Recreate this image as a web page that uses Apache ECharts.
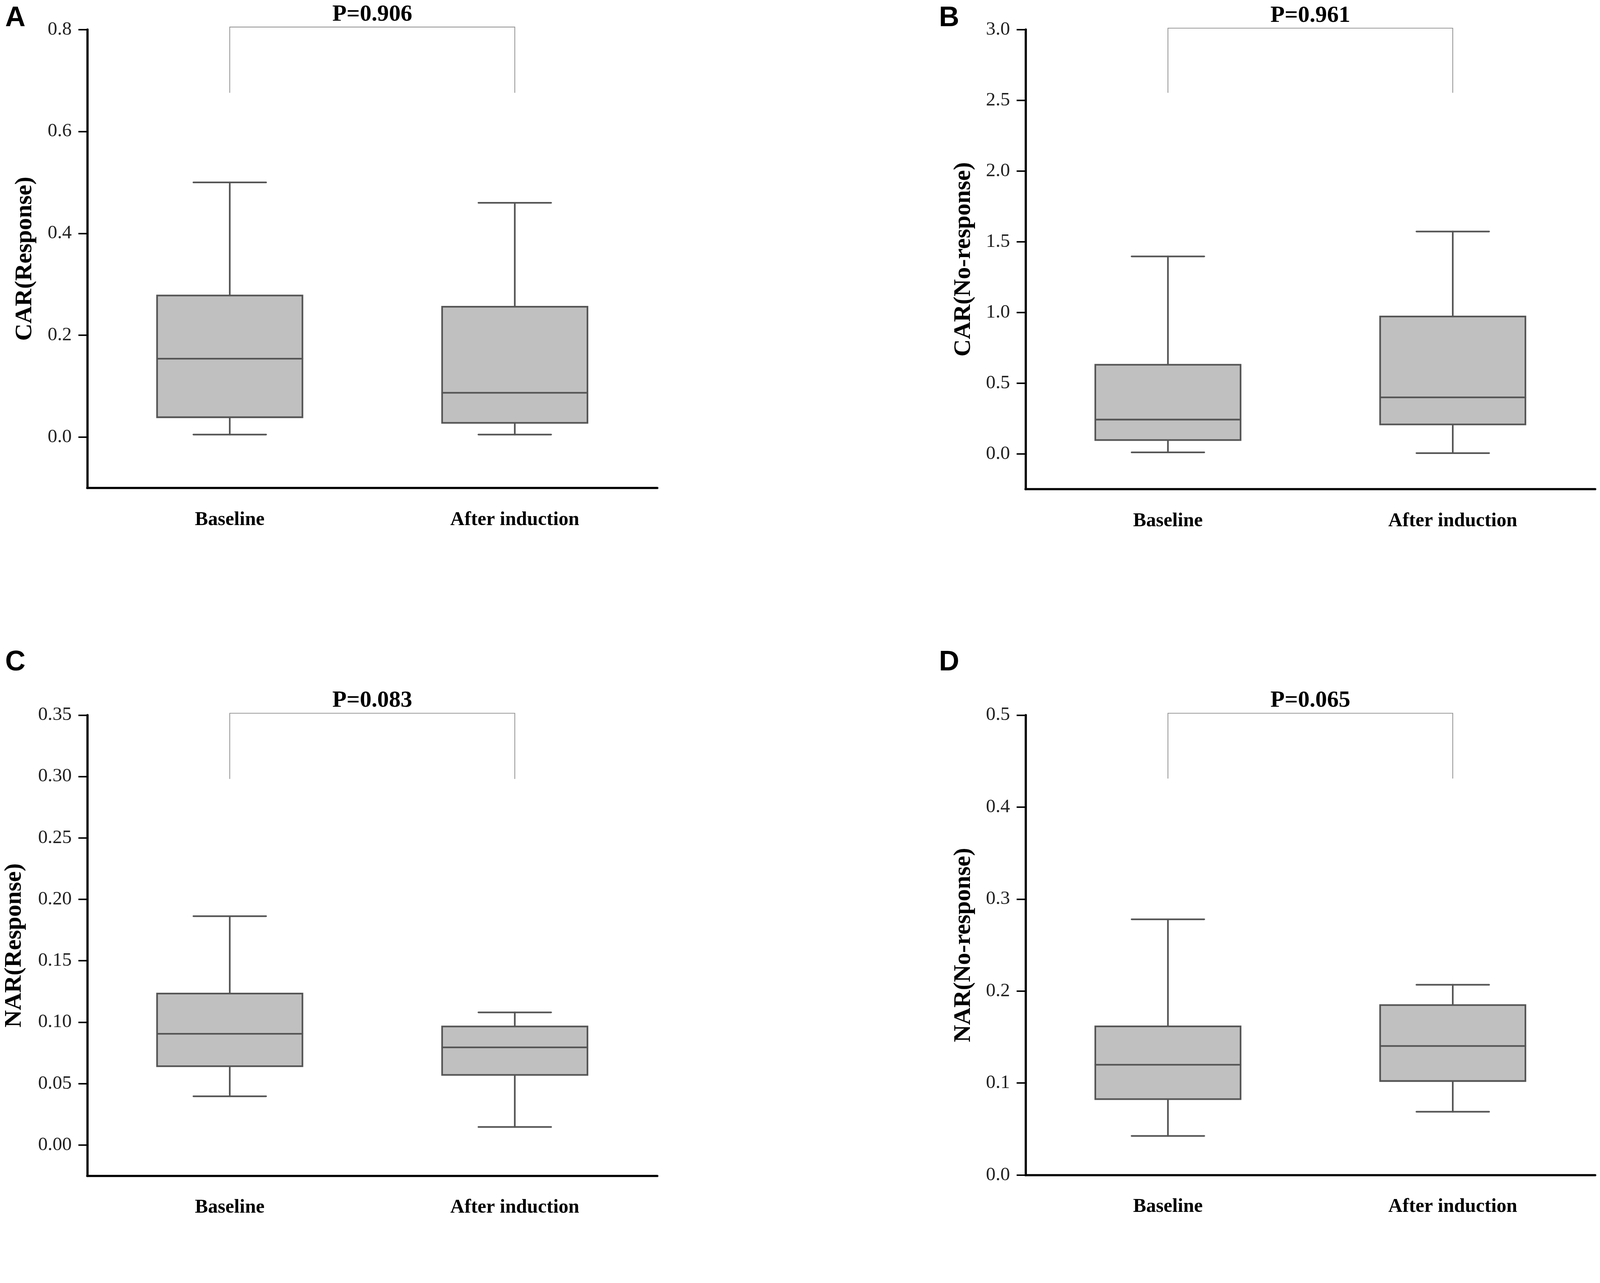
<!DOCTYPE html>
<html>
<head>
<meta charset="utf-8">
<script src="https://cdn.jsdelivr.net/npm/echarts@6/dist/echarts.min.js"></script>
<style>
  html, body { margin: 0; padding: 0; background: #fff; overflow: hidden; }
  #chart { width: 100vw; height: 100vh; }
</style>
</head>
<body>
<div id="chart"></div>
<script>
const categories = ['Baseline', 'After induction'];
const panelLetters = ['A', 'B', 'C', 'D'];
const yNames = ['CAR(Response)', 'CAR(No-response)', 'NAR(Response)', 'NAR(No-response)'];
const pLabels = ['P=0.906', 'P=0.961', 'P=0.083', 'P=0.065'];

// each group: [min, Q1, median, Q3, max]
const carResponse = [[0.005, 0.039, 0.154, 0.278, 0.500], [0.005, 0.028, 0.087, 0.256, 0.460]];
const carNoResponse = [[0.010, 0.097, 0.242, 0.630, 1.396], [0.005, 0.208, 0.399, 0.971, 1.572]];
const narResponse = [[0.0397, 0.0642, 0.0906, 0.1233, 0.1863], [0.0147, 0.0571, 0.0795, 0.0965, 0.108]];
const narNoResponse = [[0.0425, 0.0825, 0.1199, 0.1616, 0.278], [0.0688, 0.1022, 0.1403, 0.1847, 0.2068]];

// significance bracket: [top, end of legs]
const brackets = [[0.805, 0.676], [3.01, 2.553], [0.3515, 0.298], [0.502, 0.431]];

const yMins = [-0.1, -0.25, -0.025, 0];
const yMaxs = [0.8, 3.0, 0.35, 0.5];
const yTicks = [
    [0, 0.2, 0.4, 0.6, 0.8],
    [0, 0.5, 1.0, 1.5, 2.0, 2.5, 3.0],
    [0, 0.05, 0.10, 0.15, 0.20, 0.25, 0.30, 0.35],
    [0, 0.1, 0.2, 0.3, 0.4, 0.5]
];
const yDecimals = [1, 1, 2, 1];

const panels = [carResponse, carNoResponse, narResponse, narNoResponse];

// layout is designed for a 4328 x 3284 canvas and scaled to the real viewport
const container = document.getElementById('chart');
const s = Math.min(container.clientWidth / 4328, container.clientHeight / 3284);
const px = v => v * s;

const grids = [
    { left: 236, top: 80, width: 1542, height: 1240 },
    { left: 2774, top: 80, width: 1541, height: 1243 },
    { left: 236, top: 1934, width: 1542, height: 1246 },
    { left: 2774, top: 1934, width: 1541, height: 1244 }
].map(g => ({ left: px(g.left), top: px(g.top), width: px(g.width), height: px(g.height) }));
const nameGaps = [136, 134, 164, 134];
const letterPos = [[14, 12], [2540, 12], [14, 1754], [2540, 1754]];

const serif = 'Liberation Serif';
const boxColor = '#555555';

function renderBox(params, api) {
    const c = api.value(0);
    const pMin = api.coord([c, api.value(1)]);
    const pQ1 = api.coord([c, api.value(2)]);
    const pMed = api.coord([c, api.value(3)]);
    const pQ3 = api.coord([c, api.value(4)]);
    const pMax = api.coord([c, api.value(5)]);
    const band = api.size([1, 0])[0];
    const half = band * 0.255;
    const cap = half / 2;
    const x = pMin[0];
    const st = { stroke: boxColor, lineWidth: px(4.5), lineCap: 'round' };
    return {
        type: 'group',
        children: [
            { type: 'line', shape: { x1: x, y1: pMax[1], x2: x, y2: pQ3[1] }, style: st },
            { type: 'line', shape: { x1: x - cap, y1: pMax[1], x2: x + cap, y2: pMax[1] }, style: st },
            { type: 'line', shape: { x1: x, y1: pQ1[1], x2: x, y2: pMin[1] }, style: st },
            { type: 'line', shape: { x1: x - cap, y1: pMin[1], x2: x + cap, y2: pMin[1] }, style: st },
            {
                type: 'rect',
                shape: { x: x - half, y: pQ3[1], width: half * 2, height: pQ1[1] - pQ3[1] },
                style: { fill: '#c0c0c0', stroke: boxColor, lineWidth: px(4.5) }
            },
            { type: 'line', shape: { x1: x - half, y1: pMed[1], x2: x + half, y2: pMed[1] }, style: st }
        ]
    };
}

function makeBracketRenderer(k) {
    return function (params, api) {
        const a = api.coord([0, api.value(1)]);
        const b = api.coord([1, api.value(1)]);
        const leg = api.coord([0, api.value(2)])[1];
        return {
            type: 'group',
            children: [
                {
                    type: 'polyline',
                    shape: { points: [[a[0], leg], a, b, [b[0], leg]] },
                    style: { stroke: '#8c8c8c', lineWidth: px(2), fill: null }
                },
                {
                    type: 'text',
                    x: (a[0] + b[0]) / 2,
                    y: a[1] - px(2),
                    style: {
                        text: pLabels[k],
                        align: 'center',
                        verticalAlign: 'bottom',
                        fontFamily: serif,
                        fontWeight: 'bold',
                        fontSize: px(63),
                        fill: '#000'
                    }
                }
            ]
        };
    };
}

const option = {
    backgroundColor: '#fff',
    animation: false,
    title: panelLetters.map((t, i) => ({
        text: t,
        left: px(letterPos[i][0]),
        top: px(letterPos[i][1]),
        padding: 0,
        textStyle: { fontFamily: 'Liberation Sans', fontWeight: 'bold', fontSize: px(76), color: '#000' }
    })),
    grid: grids,
    xAxis: grids.map((g, i) => ({
        gridIndex: i,
        type: 'category',
        data: categories,
        boundaryGap: true,
        axisLine: { onZero: false, lineStyle: { color: '#000', width: px(6) } },
        axisTick: { alignWithLabel: true, length: px(24), lineStyle: { color: '#000', width: px(4) } },
        axisLabel: { margin: px(60), fontFamily: serif, fontWeight: 'bold', fontSize: px(53), color: '#000' },
        splitLine: { show: false }
    })),
    yAxis: grids.map((g, i) => ({
        gridIndex: i,
        type: 'value',
        min: yMins[i],
        max: yMaxs[i],
        axisLine: { show: true, onZero: false, lineStyle: { color: '#000', width: px(6) } },
        axisTick: { show: true, customValues: yTicks[i], length: px(24), lineStyle: { color: '#000', width: px(4) } },
        axisLabel: {
            customValues: yTicks[i],
            formatter: v => Number(v).toFixed(yDecimals[i]),
            margin: px(42),
            fontFamily: serif,
            fontSize: px(52),
            color: '#222'
        },
        splitLine: { show: false },
        name: yNames[i],
        nameLocation: 'middle',
        nameRotate: 90,
        nameGap: px(nameGaps[i]),
        nameTextStyle: { fontFamily: serif, fontWeight: 'bold', fontSize: px(65), color: '#000' }
    })),
    series: []
};

panels.forEach((groups, i) => {
    option.series.push({
        type: 'custom',
        xAxisIndex: i,
        yAxisIndex: i,
        clip: false,
        renderItem: renderBox,
        encode: { x: 0, y: [1, 2, 3, 4, 5] },
        data: groups.map((d, j) => [j].concat(d))
    });
    option.series.push({
        type: 'custom',
        xAxisIndex: i,
        yAxisIndex: i,
        clip: false,
        renderItem: makeBracketRenderer(i),
        encode: { x: 0, y: [1, 2] },
        data: [[0, brackets[i][0], brackets[i][1]]]
    });
});

const chart = echarts.init(container);
chart.setOption(option);
window.onresize = () => chart.resize();
</script>
</body>
</html>
